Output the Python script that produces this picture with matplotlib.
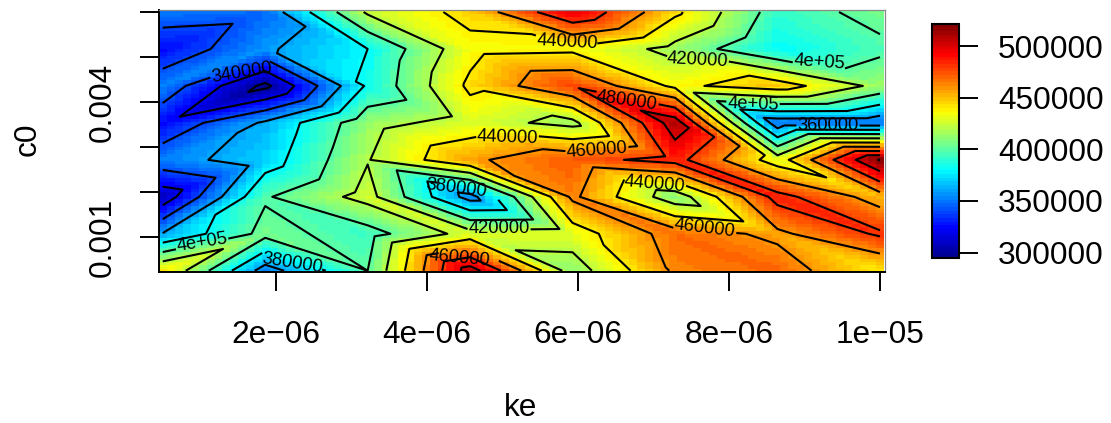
import numpy as np
import matplotlib
matplotlib.use("Agg")
import matplotlib.pyplot as plt
import matplotlib.tri as mtri
from matplotlib.colors import LinearSegmentedColormap

# grid of the fit, values in thousands, rows listed from the bottom up
ke = np.linspace(5e-7, 1e-5, 8)
c0 = np.linspace(0.00025, 0.006, 8)
col0 = [440, 361, 308, 352, 325, 353, 325, 351]
col1 = [351, 406, 398, 370, 363, 295, 357, 347]
col2 = [400, 392, 427, 419, 413, 383, 380, 423]
col3 = [510, 428, 352, 457, 428, 444, 434, 446]
col4 = [410, 430, 464, 473, 414, 478, 436, 498]
col5 = [463, 469, 408, 487, 511, 436, 414, 444]
col6 = [470, 456, 487, 430, 348, 450, 380, 391]
col7 = [440, 483, 451, 521.6, 347, 414, 396, 406]

xtick_vals = [2e-6, 4e-6, 6e-6, 8e-6, 1e-5]
xtick_labels = ["2e\u221206", "4e\u221206", "6e\u221206", "8e\u221206", "1e\u221205"]
ytick_vals = [0.001, 0.002, 0.003, 0.004, 0.005, 0.006]
ytick_labels = ["0.001", "", "", "0.004", "", ""]
levels = np.arange(300000, 520001, 20000)
bar_ticks = [300000, 350000, 400000, 450000, 500000]

W, H = 1111, 423
plt.rcParams["font.family"] = ["Liberation Sans", "DejaVu Sans"]

tim = LinearSegmentedColormap.from_list(
    "tim",
    [(0, "#00008F"), (0.125, "#0000FF"), (0.375, "#00FFFF"),
     (0.625, "#FFFF00"), (0.875, "#FF0000"), (1, "#800000")],
    N=64,
)

z = np.array([col0, col1, col2, col3, col4, col5, col6, col7]).T.ravel() * 1000.0
xx, yy = np.meshgrid(ke, c0)

# each cell is split along one diagonal, the first column goes the other way
triangles = []
for j in range(7):
    for i in range(7):
        bl, br = j * 8 + i, j * 8 + i + 1
        tl, tr = bl + 8, br + 8
        if i == 0:
            triangles += [[bl, br, tr], [bl, tr, tl]]
        else:
            triangles += [[bl, br, tl], [br, tr, tl]]
tri = mtri.Triangulation(xx.ravel(), yy.ravel(), triangles)

xi = np.linspace(ke[0], ke[-1], 91)
yi = np.linspace(c0[0], c0[-1], 75)
zi = mtri.LinearTriInterpolator(tri, z)(*np.meshgrid(xi, yi))

fig = plt.figure(figsize=(W / 100, H / 100), dpi=100)
ax = fig.add_axes([158.5 / W, 1 - 272 / H, 726 / W, 262 / H])
im = ax.pcolormesh(xi, yi, zi, cmap=tim, vmin=294400, vmax=521600, shading="nearest")
cs = ax.tricontour(tri, z, levels=levels, colors="black", linewidths=1.5, linestyles="solid")
ax.set_xlim(0.444e-6, 10.06e-6)
ax.set_ylim(0.000222, 0.006044)


def to_data(px, py):
    return 2e-6 + (px - 276) / 75.5 * 1e-6, 0.001 + (237 - py) / 45 * 0.001


# where the line is cut, where the text then sits (pixels), and its angle
label_cuts = [(240, 67), (470, 186), (202, 243), (292, 260), (470, 249), (499, 229),
              (567, 42), (697, 60), (820, 62), (627, 101), (753, 104), (828, 126),
              (507, 138), (597, 150), (655, 184), (705, 228)]
label_spots = [(242, 73), (456, 188), (202, 243), (292, 263), (460, 258), (499, 229),
               (567, 42), (697, 60), (820, 62), (627, 101), (753, 104), (828, 126),
               (507, 138), (597, 150), (655, 184), (705, 228)]
label_rot = [9, -7, 9, -9, -5, 0, -3, -3, -4, -8, -2, 0, -2, 4, -5, -7]
ax.clabel(cs, manual=[to_data(*p) for p in label_cuts], fontsize=13.2, inline_spacing=1,
          fmt=lambda v: "4e+05" if v == 400000 else f"{v:.0f}", colors="black")
for t, p, r in zip(cs.labelTexts, label_spots, label_rot):
    t.set_position(to_data(*p))
    t.set_rotation(r)

ax.set_xticks(xtick_vals, xtick_labels)
ax.set_yticks(ytick_vals, ytick_labels)
ax.tick_params(axis="x", length=13.5, width=1.4, labelsize=22.8, pad=21)
ax.tick_params(axis="y", length=13.5, width=1.4, labelsize=22.8, pad=16)
for lab in ax.get_yticklabels():
    lab.set_rotation(90)
    lab.set_va("center")
for side in ["left", "bottom"]:
    ax.spines[side].set_linewidth(1.4)
for side in ["top", "right"]:
    ax.spines[side].set_color("#888888")
    ax.spines[side].set_linewidth(0.9)

fig.text(521 / W, 1 - 408 / H, "ke", fontsize=22.8, ha="center", va="center")
fig.text(28 / W, 1 - 139 / H, "c0", fontsize=22.8, ha="center", va="center", rotation=90)

cax = fig.add_axes([932 / W, 1 - 258.3 / H, 27 / W, 234.6 / H])
bar = fig.colorbar(im, cax=cax, ticks=bar_ticks)
bar.outline.set_linewidth(1.5)
cax.tick_params(length=14, width=1.4, labelsize=22.8, pad=14)
cax.set_yticklabels([str(t) for t in bar_ticks])

fig.savefig("out.png", dpi=100)
